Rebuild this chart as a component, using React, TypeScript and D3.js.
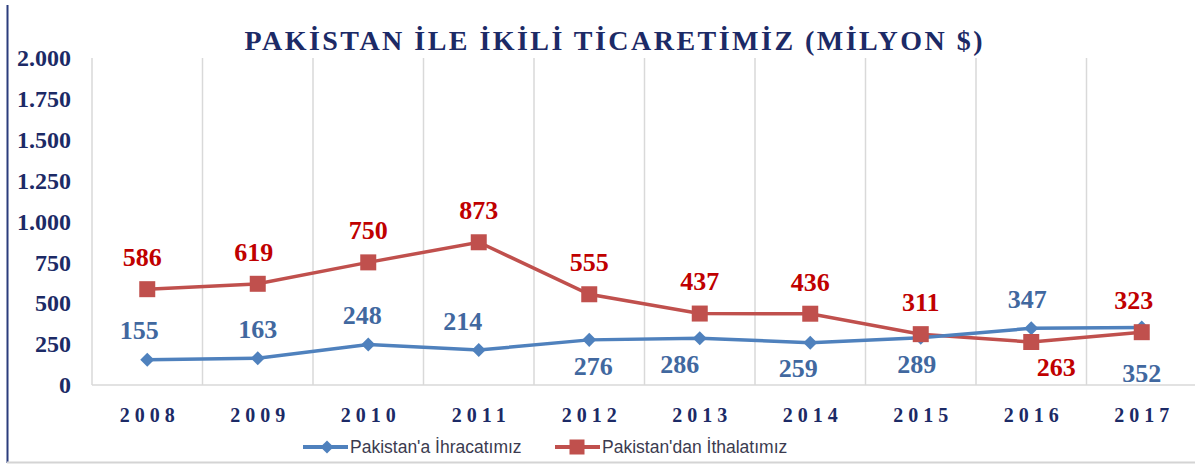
import React, { useEffect, useRef } from 'react';
import * as d3 from 'd3';

// years on the x axis
const years = ['2008', '2009', '2010', '2011', '2012', '2013', '2014', '2015', '2016', '2017'];
// Pakistan'a ihracat (export), million $
const exports = [155, 163, 248, 214, 276, 286, 259, 289, 347, 352];
// Pakistan'dan ithalat (import), million $
const imports = [586, 619, 750, 873, 555, 437, 436, 311, 263, 323];
const yTicks = [0, 250, 500, 750, 1000, 1250, 1500, 1750, 2000];

const seriesNames = ["Pakistan'a İhracatımız", "Pakistan'dan İthalatımız"];
const title = 'PAKİSTAN İLE İKİLİ TİCARETİMİZ (MİLYON $)';

// label placement (layout only): a = above, b = below, with small nudges
const exportLabelPos = ['a', 'a', 'a', 'a', 'b', 'b', 'b', 'b', 'a', 'b'];
const exportLabelDx = [-8, 0, -6, -16, 4, -20, -12, -4, -4, 0];
const exportLabelDy = [0, 0, 0, 0, 0, 0, 0, 0, 0, 20];
const importLabelPos = ['a', 'a', 'a', 'a', 'a', 'a', 'a', 'a', 'b', 'a'];
const importLabelDx = [-5, -4, 0, 0, 0, 0, 0, 0, 25, -8];
const importLabelDy = [0, 0, 0, 0, 0, 0, 0, 0, 0, 0];

const W = 1195;
const H = 464;
const BLUE = '#4f81bd';
const RED = '#c0504d';
const NAVY = '#1c2a66';
const SERIF = '"Liberation Serif", "Times New Roman", serif';

const fmt = (v: number) => d3.format(',')(v).replace(/,/g, '.');

const App: React.FC = () => {
    const svgRef = useRef<SVGSVGElement>(null);

    useEffect(() => {
        if (!svgRef.current) return;
        const svg = d3.select(svgRef.current);
        svg.selectAll('*').remove();

        const plotLeft = 92;
        const plotRight = 1197;
        const plotTop = 58;
        const plotBottom = 385;

        const x = d3.scaleBand<string>().domain(years).range([plotLeft, plotRight]);
        const cx = (d: string) => (x(d) || 0) + x.bandwidth() / 2;
        const y = d3.scaleLinear().domain([0, 2000]).range([plotBottom, plotTop]);

        // frame: navy left edge, grey bottom edge
        svg.append('line')
            .attr('x1', 7.5).attr('x2', 7.5).attr('y1', 5).attr('y2', 463)
            .attr('stroke', '#2b3c7c').attr('stroke-width', 2);
        svg.append('line')
            .attr('x1', 7).attr('x2', W).attr('y1', 462.5).attr('y2', 462.5)
            .attr('stroke', '#d4d4d4').attr('stroke-width', 2);

        // title
        svg.append('text')
            .attr('x', 613.5)
            .attr('y', 50)
            .attr('text-anchor', 'middle')
            .attr('textLength', 738)
            .attr('lengthAdjust', 'spacing')
            .attr('fill', NAVY)
            .style('font-family', SERIF)
            .style('font-weight', 'bold')
            .style('font-size', '28px')
            .text(title);

        // vertical gridlines (category boundaries)
        const bounds = years.map(d => x(d) || 0).concat([plotRight]);
        svg.append('g')
            .selectAll('line')
            .data(bounds)
            .join('line')
            .attr('x1', d => d).attr('x2', d => d)
            .attr('y1', plotTop).attr('y2', plotBottom)
            .attr('stroke', '#d9d9d9').attr('stroke-width', 1.5);

        // x axis line
        svg.append('line')
            .attr('x1', plotLeft).attr('x2', plotRight)
            .attr('y1', plotBottom).attr('y2', plotBottom)
            .attr('stroke', '#d9d9d9').attr('stroke-width', 1.5);

        // y tick labels
        svg.append('g')
            .selectAll('text')
            .data(yTicks)
            .join('text')
            .attr('x', 71)
            .attr('y', d => y(d))
            .attr('dy', '0.34em')
            .attr('text-anchor', 'end')
            .attr('fill', NAVY)
            .style('font-family', SERIF)
            .style('font-weight', 'bold')
            .style('font-size', '24px')
            .text(d => fmt(d));

        // x tick labels
        svg.append('g')
            .selectAll('text')
            .data(years)
            .join('text')
            .attr('x', d => cx(d) + 2.5)
            .attr('y', 422)
            .attr('text-anchor', 'middle')
            .attr('fill', NAVY)
            .style('font-family', SERIF)
            .style('font-weight', 'bold')
            .style('font-size', '20px')
            .style('letter-spacing', '5px')
            .text(d => d);

        const line = d3.line<number>()
            .x((_, i) => cx(years[i]))
            .y(d => y(d));

        // import series (red, squares)
        svg.append('path')
            .datum(imports)
            .attr('fill', 'none')
            .attr('stroke', RED)
            .attr('stroke-width', 3.5)
            .attr('d', line);

        // export series (blue, diamonds)
        svg.append('path')
            .datum(exports)
            .attr('fill', 'none')
            .attr('stroke', BLUE)
            .attr('stroke-width', 3.5)
            .attr('d', line);

        const diamond = d3.symbol().type(d3.symbolDiamond2).size(125);
        svg.append('g')
            .selectAll('path')
            .data(exports)
            .join('path')
            .attr('transform', (d, i) => `translate(${cx(years[i])},${y(d)})`)
            .attr('d', diamond())
            .attr('fill', BLUE);

        svg.append('g')
            .selectAll('rect')
            .data(imports)
            .join('rect')
            .attr('x', (_, i) => cx(years[i]) - 8)
            .attr('y', d => y(d) - 8)
            .attr('width', 16)
            .attr('height', 16)
            .attr('fill', RED);

        // data labels
        const labels = (vals: number[], pos: string[], dxs: number[], dys: number[], color: string, aboveOff: number, belowOff: number) => {
            svg.append('g')
                .selectAll('text')
                .data(vals)
                .join('text')
                .attr('x', (_, i) => cx(years[i]) + dxs[i])
                .attr('y', (d, i) => y(d) + (pos[i] === 'a' ? aboveOff : belowOff) + dys[i])
                .attr('dy', '0.34em')
                .attr('text-anchor', 'middle')
                .attr('fill', color)
                .style('font-family', SERIF)
                .style('font-weight', 'bold')
                .style('font-size', '26px')
                .text(d => d);
        };
        labels(exports, exportLabelPos, exportLabelDx, exportLabelDy, '#41689f', -29, 26);
        labels(imports, importLabelPos, importLabelDx, importLabelDy, '#c00000', -32, 25);

        // legend
        const legend = svg.append('g').attr('transform', 'translate(0,447)');
        const legendItems = [
            { name: seriesNames[0], color: BLUE, x0: 303, marker: 'diamond' },
            { name: seriesNames[1], color: RED, x0: 555, marker: 'square' }
        ];
        legendItems.forEach(it => {
            legend.append('line')
                .attr('x1', it.x0).attr('x2', it.x0 + 45)
                .attr('y1', 0).attr('y2', 0)
                .attr('stroke', it.color).attr('stroke-width', 4);
            if (it.marker === 'diamond') {
                legend.append('path')
                    .attr('transform', `translate(${it.x0 + 24},0)`)
                    .attr('d', d3.symbol().type(d3.symbolDiamond2).size(110)())
                    .attr('fill', it.color);
            } else {
                legend.append('rect')
                    .attr('x', it.x0 + 22 - 7.5).attr('y', -7.5)
                    .attr('width', 15).attr('height', 15)
                    .attr('fill', it.color);
            }
            legend.append('text')
                .attr('x', it.x0 + 47)
                .attr('y', 0)
                .attr('dy', '0.35em')
                .attr('fill', '#3b3b4f')
                .style('font-family', '"Liberation Sans", Arial, sans-serif')
                .style('font-size', '17.5px')
                .text(it.name);
        });
    }, []);

    return (
        <svg
            ref={svgRef}
            width={W}
            height={H}
            style={{ position: 'absolute', left: 0, top: 0, background: '#fff' }}
        />
    );
};

export default App;
